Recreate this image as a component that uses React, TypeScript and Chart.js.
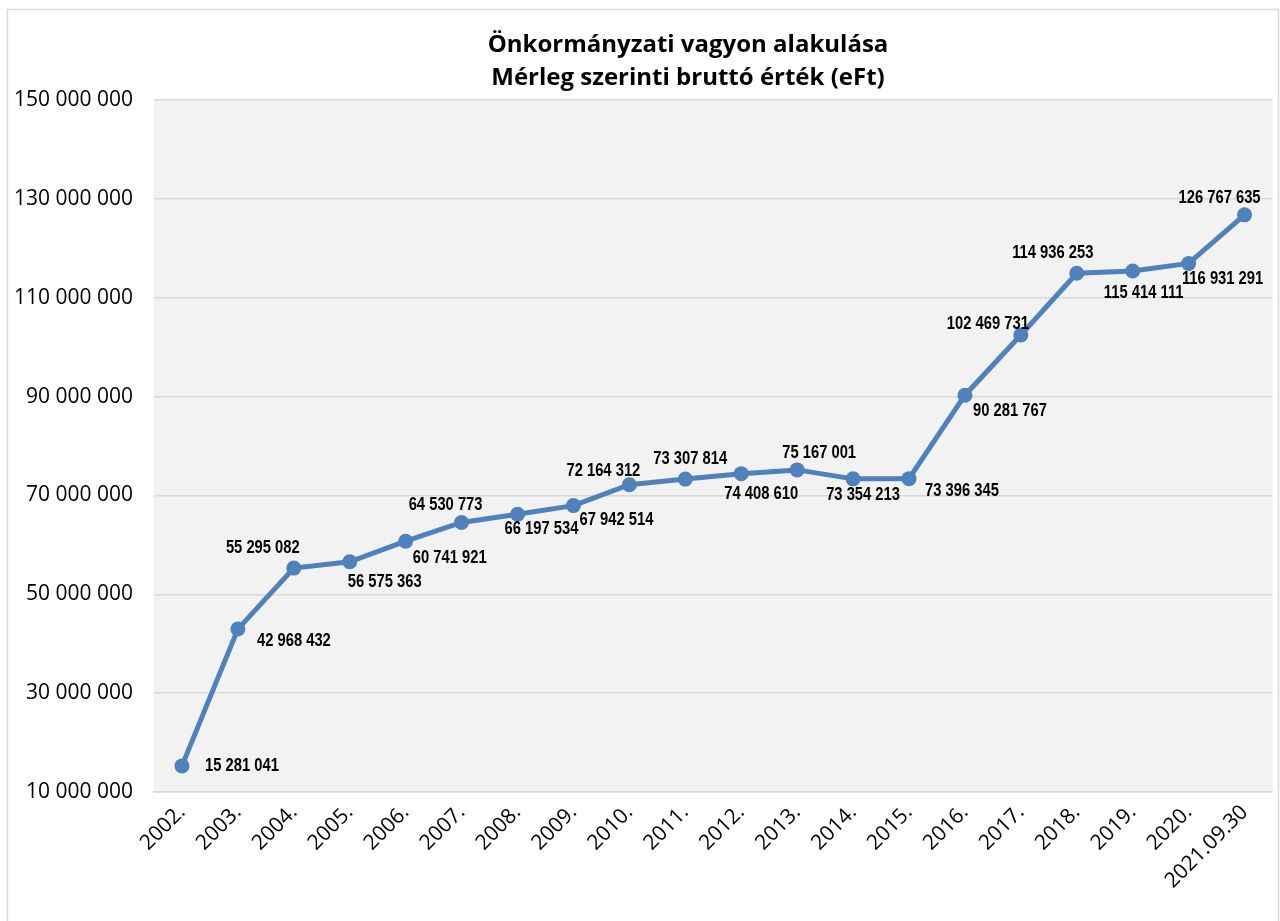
import React, { useEffect, useRef } from "react";
import { Chart, registerables } from "chart.js";

Chart.register(...registerables);

const categories: string[] = [
  "2002.", "2003.", "2004.", "2005.", "2006.", "2007.", "2008.", "2009.", "2010.", "2011.",
  "2012.", "2013.", "2014.", "2015.", "2016.", "2017.", "2018.", "2019.", "2020.", "2021.09.30",
];

const values: number[] = [
  15281041, 42968432, 55295082, 56575363, 60741921, 64530773, 66197534, 67942514, 72164312, 73307814,
  74408610, 75167001, 73354213, 73396345, 90281767, 102469731, 114936253, 115414111, 116931291, 126767635,
];

const titleLines: string[] = ["Önkormányzati vagyon alakulása", "Mérleg szerinti bruttó érték (eFt)"];

const yMin = 10000000;
const yMax = 150000000;
const yStep = 20000000;

// label placement offsets relative to each point (styling only)
const labelOffsets: [number, number][] = [
  [60, 0], [56, 12], [-31, -20], [35, 20], [44, 17], [-16, -17], [24, 15], [43, 14], [-26, -14], [5, -20],
  [20, 20], [22, -17], [10, 16], [53, 12], [45, 16], [-33, -11], [-24, -20], [11, 22], [34, 16], [-25, -17],
];

const fmt = (v: number) => String(Math.round(v)).replace(/\B(?=(\d{3})+(?!\d))/g, " ");

export default function App() {
  const ref = useRef<HTMLCanvasElement | null>(null);

  useEffect(() => {
    if (!ref.current) return;
    const bgPlugin = {
      id: "bg",
      beforeDraw(chart: any) {
        const { ctx, chartArea } = chart;
        ctx.save();
        ctx.fillStyle = "#ffffff";
        ctx.fillRect(0, 0, chart.width, chart.height);
        ctx.fillStyle = "#f2f2f2";
        ctx.fillRect(chartArea.left, chartArea.top, chartArea.right - chartArea.left, chartArea.bottom - chartArea.top);
        ctx.restore();
      },
      afterDraw(chart: any) {
        const { ctx } = chart;
        ctx.save();
        ctx.strokeStyle = "#d9d9d9";
        ctx.lineWidth = 1.5;
        ctx.strokeRect(7.5, 9.5, 1271, 940);
        ctx.fillStyle = "#000000";
        ctx.font = "bold 24px 'Open Sans'";
        ctx.textAlign = "center";
        ctx.textBaseline = "middle";
        ctx.fillText(titleLines[0], 688, 45);
        ctx.fillText(titleLines[1], 688, 78);
        ctx.restore();
      },
    };
    const labelPlugin = {
      id: "dlabels",
      afterDatasetsDraw(chart: any) {
        const { ctx } = chart;
        const meta = chart.getDatasetMeta(0);
        ctx.save();
        ctx.fillStyle = "#000000";
        ctx.font = "bold 18px 'Liberation Sans'";
        ctx.textAlign = "center";
        ctx.textBaseline = "middle";
        meta.data.forEach((pt: any, i: number) => {
          const off = labelOffsets[i] || [0, -18];
          ctx.save();
          ctx.translate(pt.x + off[0], pt.y + off[1]);
          ctx.scale(0.82, 1);
          ctx.fillText(fmt(values[i]), 0, 0);
          ctx.restore();
        });
        ctx.restore();
      },
    };
    const chart = new Chart(ref.current, {
      type: "line",
      data: {
        labels: categories,
        datasets: [
          {
            data: values,
            borderColor: "#4f81bd",
            backgroundColor: "#4f81bd",
            borderWidth: 5,
            pointRadius: 7.5,
            pointHoverRadius: 7.5,
            pointBackgroundColor: "#4f81bd",
            pointBorderColor: "#4f81bd",
            pointBorderWidth: 0,
            tension: 0,
            fill: false,
          },
        ],
      },
      options: {
        responsive: false,
        animation: false,
        layout: { padding: { top: 100, right: 7, left: 0, bottom: 0 } },
        plugins: {
          legend: { display: false },
          title: { display: false },
          tooltip: { enabled: false },
        },
        scales: {
          x: {
            offset: true,
            grid: { display: false, drawTicks: false },
            border: { display: true, color: "#d9d9d9", width: 1.5 },
            ticks: {
              color: "#000000",
              font: { family: "'Open Sans'", size: 21 },
              minRotation: 45,
              maxRotation: 45,
              autoSkip: false,
              padding: 8,
            },
            afterFit(scale: any) {
              scale.height = 129;
            },
          },
          y: {
            min: yMin,
            max: yMax,
            grid: { color: "#d9d9d9", lineWidth: 1.5, drawTicks: false },
            border: { display: false },
            ticks: {
              stepSize: yStep,
              color: "#000000",
              font: { family: "'Open Sans'", size: 21 },
              padding: 21,
              callback: (v: any) => fmt(Number(v)),
            },
            afterFit(scale: any) {
              scale.width = 154;
            },
          },
        },
      },
      plugins: [bgPlugin, labelPlugin],
    });
    return () => chart.destroy();
  }, []);

  return (
    <div style={{ position: "absolute", left: 0, top: 0, width: 1280, height: 921, overflow: "hidden" }}>
      <canvas ref={ref} width={1280} height={921} style={{ display: "block" }} />
    </div>
  );
}
